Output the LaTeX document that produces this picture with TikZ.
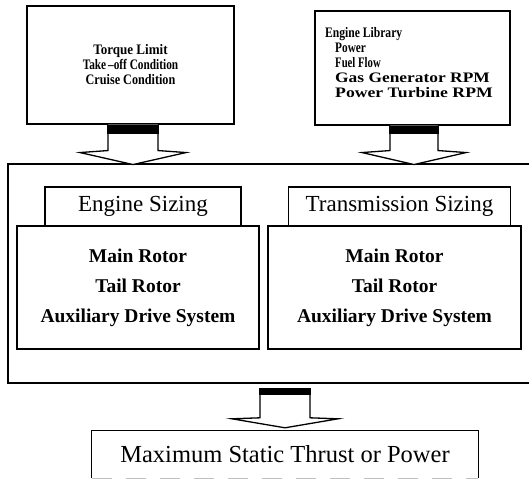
\documentclass[tikz,border=0pt]{standalone}
\usepackage{fontspec}
\usepackage{graphicx}
\setmainfont{Liberation Serif}
\usetikzlibrary{calc}
\newcommand{\sx}[2]{\scalebox{#1}[1]{#2}}
\begin{document}
\begin{tikzpicture}[x=1pt,y=-1pt,
  box/.style={draw, line width=1.1pt, inner sep=0pt},
  blk/.style={draw, line width=1.3pt, fill=white, line join=miter},
  small/.style={font=\bfseries\fontsize{14.5}{15}\selectfont},
  lab/.style={font=\fontsize{23}{27}\selectfont},
  rot/.style={font=\bfseries\fontsize{19.5}{30}\selectfont, align=center},
]
\useasboundingbox (0,0) rectangle (529,479);
% top boxes
\node[box, minimum width=207pt, minimum height=118pt] (tl) at (130.5,65) {};
\node[small, align=center] (tltext) at (tl.center) {\sx{0.9}{Torque Limit}\\\sx{0.78}{Take\,--off Condition}\\\sx{0.84}{Cruise Condition}};
\node[box, minimum width=195pt, minimum height=114pt] (tr) at (412.5,68) {};
\node[small, align=left, anchor=west, inner sep=0pt] (trtext) at (325,62.5) {\sx{0.8}{Engine Library}\\\hspace*{10pt}\sx{0.78}{Power}\\\hspace*{10pt}\sx{0.74}{Fuel Flow}\\\hspace*{10pt}\sx{1.2}{Gas Generator RPM}\\\hspace*{10pt}\sx{1.22}{Power Turbine RPM}};
% container
\node[box, minimum width=532pt, minimum height=219pt] (cont) at (274,273.5) {};
% body boxes
\node[box, minimum width=242pt, minimum height=123pt] (esb) at (138,287.5) {};
\node[rot] (estext) at (esb.center) {Main Rotor\\Tail Rotor\\Auxiliary Drive System};
\node[box, minimum width=253pt, minimum height=123pt] (tsb) at (394.5,287.5) {};
\node[rot] (tstext) at (tsb.center) {Main Rotor\\Tail Rotor\\Auxiliary Drive System};
% labels
\node[box, fill=white, minimum width=196pt, minimum height=39pt, lab] (esl) at (143,206.5) {Engine Sizing};
\node[box, fill=white, minimum width=222pt, minimum height=39pt, lab] (tsl) at (399.5,206.5) {Transmission Sizing};
% bottom box
\node[minimum width=386pt, minimum height=47pt, inner sep=0pt, font=\fontsize{24.5}{28}\selectfont] (bot) at (285,454.5) {Maximum Static Thrust or Power};
\draw[line width=1.1pt] (bot.south west) -- (bot.north west) -- (bot.north east) -- (bot.south east);
\draw[line width=0.5pt, black!25, dash pattern=on 20pt off 14pt] (bot.south west) -- (bot.south east);
% block arrows
\coordinate (a1) at ($(tl.south)+(2.5,0)$);
\coordinate (a2) at ($(tr.south)+(1.5,0)$);
\coordinate (a3) at ($(bot.north)+(0,-42)$);
\draw[blk, shift={(a1)}] (-25,0) -- (-25,26) -- (-53,28) -- (0,40) -- (53,28) -- (25,26) -- (25,0);
\fill[shift={(a1)}] (-25.6,0) rectangle (25.6,9);
\draw[blk, shift={(a2)}] (-24,0) -- (-24,25) -- (-52,27) -- (0,39) -- (52,27) -- (24,25) -- (24,0);
\fill[shift={(a2)}] (-24.6,0) rectangle (24.6,8);
\draw[blk, shift={(a3)}] (-25,0) -- (-25,29) -- (-53,30) -- (0,39) -- (53,30) -- (25,29) -- (25,0) -- cycle;
\fill[shift={(a3)}] (-25.6,-0.6) rectangle (25.6,6);
\end{tikzpicture}
\end{document}
